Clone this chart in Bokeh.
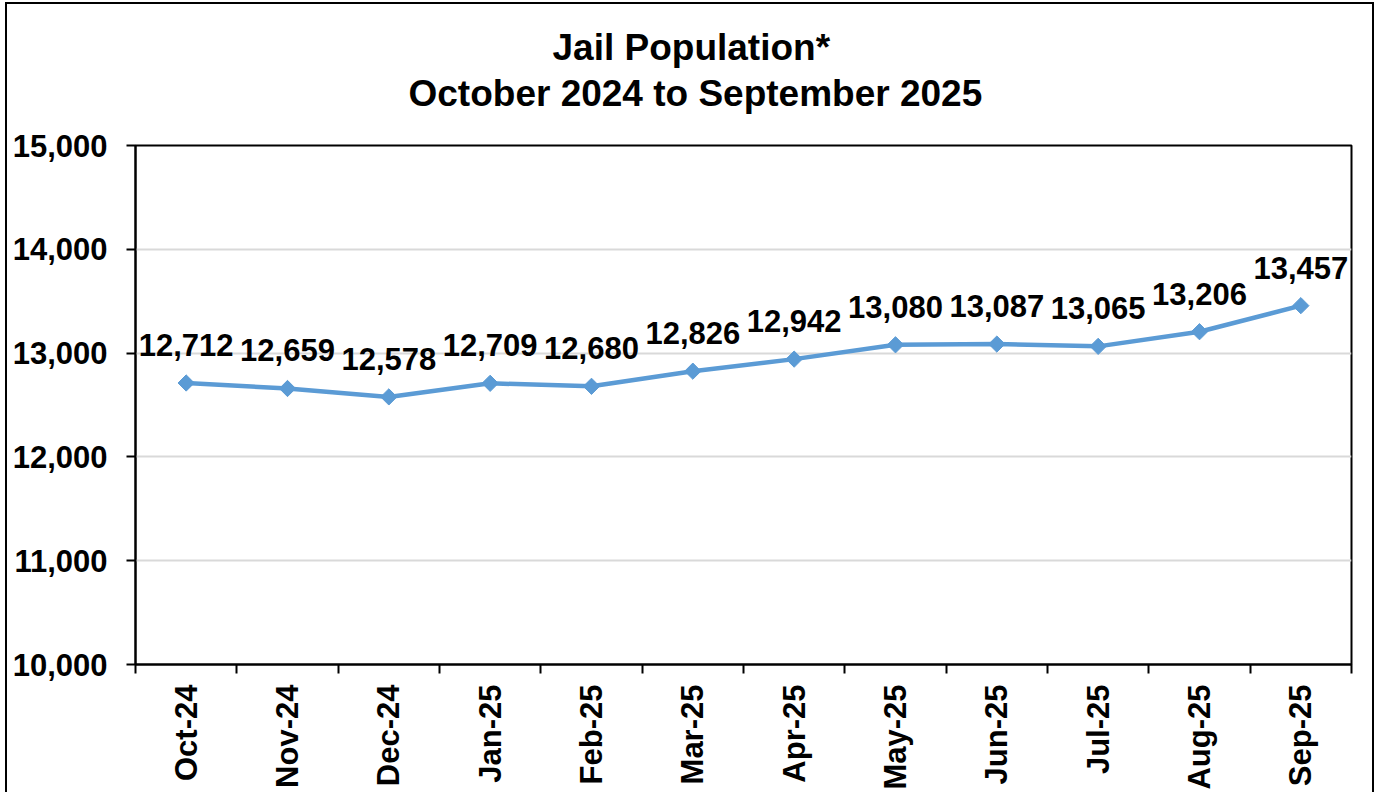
import math
from bokeh.plotting import figure
from bokeh.models import Range1d, FixedTicker, Title, NumeralTickFormatter
from bokeh.core.properties import value
from bokeh.embed import file_html
from bokeh.resources import INLINE

months = ["Oct-24", "Nov-24", "Dec-24", "Jan-25", "Feb-25", "Mar-25",
          "Apr-25", "May-25", "Jun-25", "Jul-25", "Aug-25", "Sep-25"]
population = [12712, 12659, 12578, 12709, 12680, 12826,
              12942, 13080, 13087, 13065, 13206, 13457]
y_ticks = [10000, 11000, 12000, 13000, 14000, 15000]
title_line1 = "Jail Population*"
title_line2 = "October 2024 to September 2025"

FONT = "Liberation Sans"
BLUE = "#5B9BD5"

xs = [i + 0.5 for i in range(len(months))]
labels = ["{:,}".format(v) for v in population]

p = figure(width=1369, height=790, output_backend="svg", toolbar_location=None,
           title=None,
           x_range=Range1d(0, len(months)), y_range=Range1d(y_ticks[0], y_ticks[-1]),
           min_border_left=130, min_border_right=23, min_border_top=143,
           min_border_bottom=110)
p.styles = {"margin-left": "5px", "margin-top": "2px",
            "box-shadow": "inset 2px 0 0 0 #000, inset -2px 0 0 0 #000, inset 0 2px 0 0 #000"}
p.border_fill_color = None
p.background_fill_color = "white"
p.outline_line_color = "black"
p.outline_line_width = 2

t2 = Title(text=title_line2, align="left", offset=273, standoff=64,
           text_font=FONT, text_font_style="bold", text_font_size="37px", text_color="black")
t1 = Title(text=title_line1, align="left", offset=417, standoff=-58,
           text_font=FONT, text_font_style="bold", text_font_size="37px", text_color="black")
p.add_layout(t2, "above")
p.add_layout(t1, "above")

# grid
p.xgrid.grid_line_color = None
p.ygrid.grid_line_color = "#d9d9d9"
p.ygrid.grid_line_width = 2
p.ygrid.ticker = FixedTicker(ticks=y_ticks)

# y axis
p.yaxis.ticker = FixedTicker(ticks=y_ticks)
p.yaxis.formatter = NumeralTickFormatter(format="0,0")
p.yaxis.axis_line_color = "black"
p.yaxis.axis_line_width = 2
p.yaxis.major_tick_line_color = "black"
p.yaxis.major_tick_line_width = 2
p.yaxis.major_tick_out = 9
p.yaxis.major_tick_in = 0
p.yaxis.minor_tick_line_color = None
p.yaxis.major_label_standoff = 19
p.yaxis.major_label_text_font = FONT
p.yaxis.major_label_text_font_style = "bold"
p.yaxis.major_label_text_font_size = "31px"
p.yaxis.major_label_text_color = "black"

# x axis
p.xaxis.ticker = FixedTicker(ticks=xs, minor_ticks=list(range(len(months) + 1)))
p.xaxis.major_label_overrides = {x: m for x, m in zip(xs, months)}
p.xaxis.axis_line_color = "black"
p.xaxis.axis_line_width = 2
p.xaxis.major_tick_line_color = None
p.xaxis.major_tick_out = 0
p.xaxis.major_tick_in = 0
p.xaxis.minor_tick_line_color = "black"
p.xaxis.minor_tick_line_width = 2
p.xaxis.minor_tick_out = 9
p.xaxis.minor_tick_in = 0
p.xaxis.major_label_orientation = math.pi / 2
p.xaxis.major_label_standoff = 11
p.xaxis.major_label_text_font = FONT
p.xaxis.major_label_text_font_style = "bold"
p.xaxis.major_label_text_font_size = "31px"
p.xaxis.major_label_text_color = "black"

# series
p.line(xs, population, line_color=BLUE, line_width=4.5)
p.scatter(xs, population, marker="square", angle=math.pi / 4, size=11.5,
          fill_color=BLUE, line_color=BLUE)
p.text(xs, population, text=labels, text_align="center", text_baseline="alphabetic",
       y_offset=-38, text_font=value(FONT), text_font_style="bold",
       text_font_size="31px", text_color="black")

open("out.html", "w").write(file_html(p, INLINE))
